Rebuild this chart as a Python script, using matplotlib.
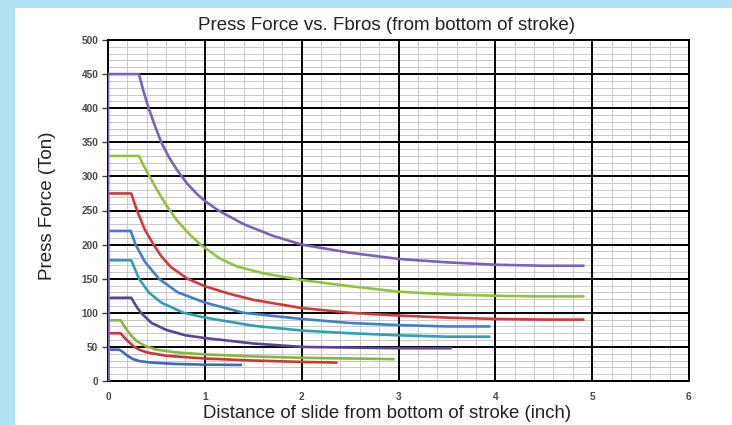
import matplotlib.pyplot as plt
import matplotlib.patches as patches
from matplotlib.ticker import MultipleLocator

# series data: distance (inch) and press force (ton), lowest curve first
x_45 = [0, 0, 0.115, 0.15, 0.2, 0.26, 0.33, 0.45, 0.7, 1.0, 1.385]
y_45 = [0, 46, 46, 43, 37, 32, 29, 27, 25, 24, 23.5]

x_70 = [0, 0, 0.13, 0.18, 0.27, 0.33, 0.4, 0.6, 1.0, 1.5, 2.0, 2.37]
y_70 = [0, 70, 70, 62, 50, 45.5, 42, 37, 33, 30, 28, 27]

x_88 = [0, 0, 0.13, 0.17, 0.23, 0.3, 0.39, 0.5, 0.7, 1.0, 1.5, 2.0, 2.5, 2.96]
y_88 = [0, 89, 89, 80, 68, 58, 51, 46, 42, 39, 36, 34, 33, 32]

x_120 = [0, 0, 0.24, 0.29, 0.34, 0.45, 0.6, 0.8, 1.0, 1.5, 2.0, 2.5, 3.0, 3.55]
y_120 = [0, 122, 122, 110, 100, 85, 75, 67, 63, 55, 50, 49, 48, 48]

x_175 = [0, 0, 0.24, 0.32, 0.42, 0.55, 0.78, 1.0, 1.5, 2.0, 2.5, 3.0, 3.5, 3.95]
y_175 = [0, 177, 177, 150, 130, 115, 100, 93, 81, 74, 70, 67, 65, 65]

x_220 = [0, 0, 0.234, 0.285, 0.38, 0.525, 0.72, 1.0, 1.4, 2.0, 2.5, 3.0, 3.5, 3.95]
y_220 = [0, 220, 220, 200, 175, 150, 130, 115, 100, 91, 85, 82, 80, 80]

x_275 = [0, 0, 0.24, 0.27, 0.30, 0.38, 0.47, 0.55, 0.65, 0.82, 1.0, 1.25, 1.5, 2.0, 2.5, 3.0, 3.5, 4.0, 4.5, 4.92]
y_275 = [0, 275, 275, 262, 250, 222, 200, 183, 167, 150, 139, 128, 119, 107, 100, 96, 93, 91, 90, 90]

x_330 = [0, 0, 0.32, 0.36, 0.42, 0.5, 0.6, 0.72, 0.85, 0.955, 1.15, 1.33, 1.6, 2.0, 2.5, 3.0, 3.5, 4.0, 4.5, 4.92]
y_330 = [0, 330, 330, 318, 302, 282, 258, 234, 214, 200, 180, 168, 158, 148, 139, 131, 127, 125, 124, 124]

x_450 = [0, 0, 0.32, 0.36, 0.42, 0.48, 0.55, 0.63, 0.72, 0.82, 0.92, 1.0, 1.14, 1.4, 1.7, 2.0, 2.5, 3.0, 3.5, 4.0, 4.5, 4.92]
y_450 = [0, 450, 450, 428, 400, 376, 350, 328, 308, 289, 274, 264, 250, 230, 213, 200, 188, 179, 174, 170.5, 169, 169]

series = [
    (x_45, y_45, '#3a6cb8'),
    (x_70, y_70, '#cc3634'),
    (x_88, y_88, '#86b83c'),
    (x_120, y_120, '#5c4399'),
    (x_175, y_175, '#2d9fb6'),
    (x_220, y_220, '#3f7fd0'),
    (x_275, y_275, '#d23a38'),
    (x_330, y_330, '#93c23e'),
    (x_450, y_450, '#7b5fc2'),
]

plt.rcParams['font.family'] = ['Liberation Sans', 'DejaVu Sans']

fig = plt.figure(figsize=(7.32, 4.25), dpi=100)
fig.patch.set_facecolor('#b3e1f5')
# white slide panel behind the chart
panel = patches.Rectangle((15 / 732, 0), 1, 1 - 8 / 425, transform=fig.transFigure,
                          facecolor='white', edgecolor='none', zorder=-5)
fig.patches.append(panel)

ax = fig.add_axes([108 / 732, 1 - 381 / 425, 581 / 732, 341 / 425])
ax.set_facecolor('white')

for xs, ys, c in series:
    ax.plot(xs, ys, color=c, linewidth=1.9, solid_joinstyle='round',
            solid_capstyle='butt', zorder=3)

ax.set_xlim(0, 6)
ax.set_ylim(0, 500)
ax.xaxis.set_major_locator(MultipleLocator(1))
ax.xaxis.set_minor_locator(MultipleLocator(0.2))
ax.yaxis.set_major_locator(MultipleLocator(50))
ax.yaxis.set_minor_locator(MultipleLocator(10))
ax.grid(which='minor', color='#c8c8c8', linewidth=0.7)
ax.set_axisbelow(True)
# major grid drawn above the minor grid
for v in ax.get_xticks():
    ax.axvline(v, color='black', linewidth=1.4, zorder=2)
for v in ax.get_yticks():
    ax.axhline(v, color='black', linewidth=1.4, zorder=2)
for s in ax.spines.values():
    s.set_color('black')
    s.set_linewidth(1.4)

ax.tick_params(axis='both', which='major', labelsize=7.3, labelcolor='#4a4a4a', color='#444444')
ax.tick_params(axis='y', which='major', length=4, width=1, pad=3)
ax.tick_params(axis='x', which='major', length=0, pad=8)
ax.tick_params(which='minor', length=0)
for lab in ax.get_xticklabels() + ax.get_yticklabels():
    lab.set_fontweight('bold')

fig.text(387 / 732, 1 - 25 / 425, 'Press Force vs. Fbros (from bottom of stroke)',
         fontsize=13.5, color='#222222', ha='center', va='center')
fig.text(387 / 732, 1 - 413 / 425, 'Distance of slide from bottom of stroke (inch)',
         fontsize=13.4, color='#222222', ha='center', va='center')
fig.text(48 / 732, 1 - 206 / 425, 'Press Force (Ton)', rotation=90,
         fontsize=13.5, color='#222222', ha='center', va='center')

fig.savefig('out.png', dpi=100, facecolor=fig.get_facecolor())
